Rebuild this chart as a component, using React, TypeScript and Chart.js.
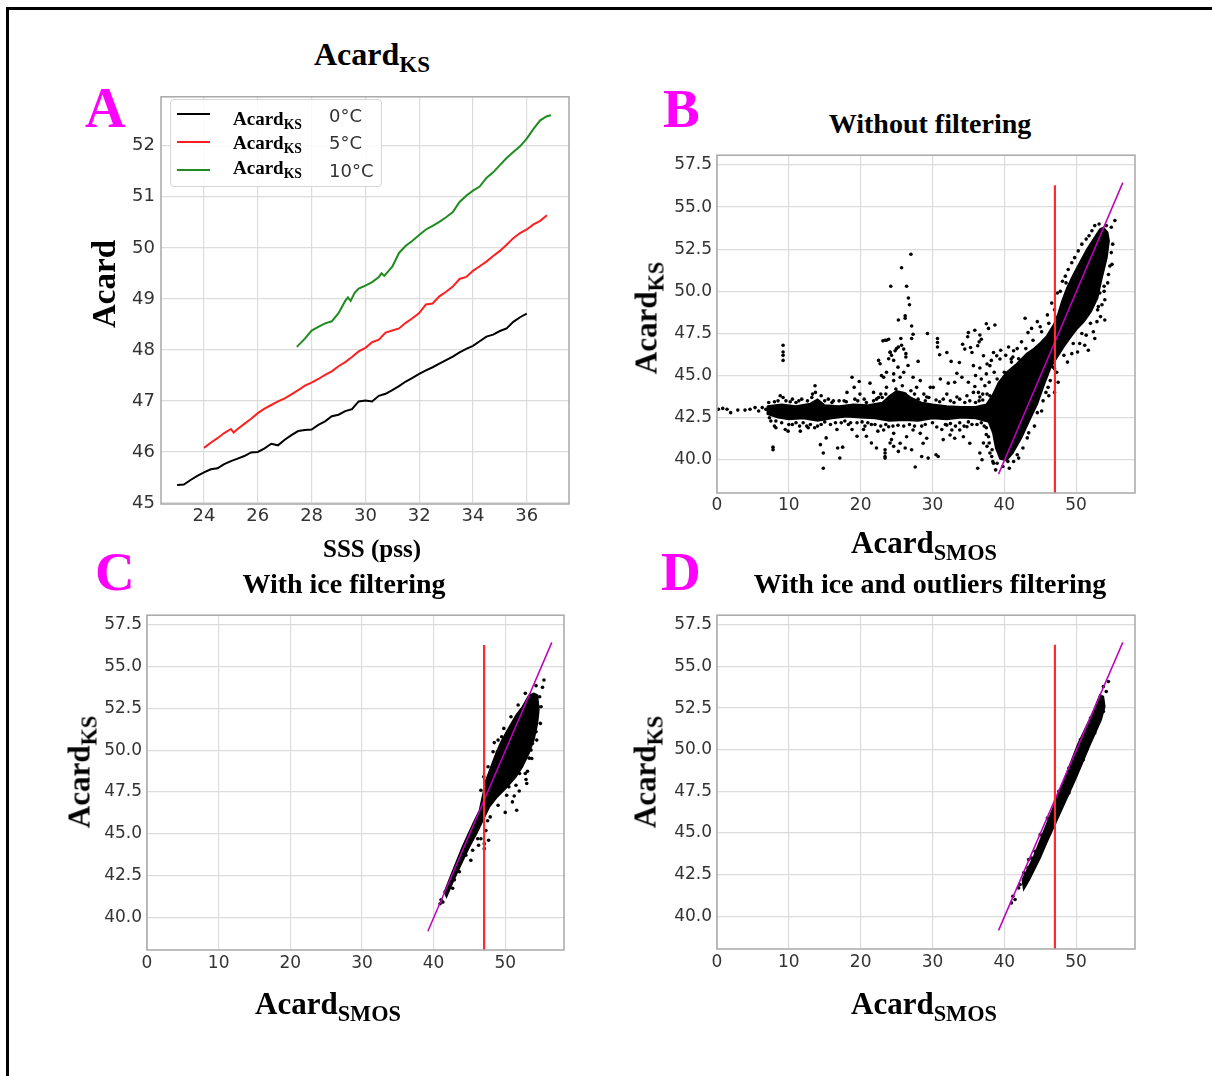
import React, { useEffect, useRef } from "react";
import { Chart, registerables } from "chart.js";

Chart.register(...registerables);

type Pt = [number, number];

// ---------------- Panel A data ----------------
const A_X_TICKS = [24, 26, 28, 30, 32, 34, 36];
const A_Y_TICKS = [45, 46, 47, 48, 49, 50, 51, 52];

const SSS_0C = [23.0, 23.25, 23.5, 23.75, 24.0, 24.25, 24.5, 24.75, 25.0, 25.25, 25.5, 25.75, 26.0, 26.25, 26.5, 26.75, 27.0, 27.25, 27.5, 27.75, 28.0, 28.25, 28.5, 28.75, 29.0, 29.25, 29.5, 29.75, 30.0, 30.25, 30.5, 30.75, 31.0, 31.25, 31.5, 31.75, 32.0, 32.25, 32.5, 32.75, 33.0, 33.25, 33.5, 33.75, 34.0, 34.25, 34.5, 34.75, 35.0, 35.25, 35.5, 35.75, 36.0];
const ACARD_0C = [45.35, 45.36, 45.45, 45.53, 45.6, 45.66, 45.68, 45.76, 45.82, 45.87, 45.92, 45.99, 46.0, 46.07, 46.16, 46.13, 46.24, 46.33, 46.41, 46.43, 46.44, 46.53, 46.6, 46.7, 46.73, 46.8, 46.84, 46.99, 47.01, 46.99, 47.1, 47.14, 47.21, 47.29, 47.38, 47.45, 47.53, 47.6, 47.66, 47.73, 47.8, 47.87, 47.95, 48.02, 48.08, 48.17, 48.26, 48.3, 48.37, 48.42, 48.55, 48.64, 48.71];

const SSS_5C = [24.0, 24.25, 24.5, 24.75, 25.0, 25.1, 25.25, 25.5, 25.75, 26.0, 26.25, 26.5, 26.75, 27.0, 27.25, 27.5, 27.75, 28.0, 28.25, 28.5, 28.75, 29.0, 29.25, 29.5, 29.75, 30.0, 30.25, 30.5, 30.75, 31.0, 31.25, 31.5, 31.75, 32.0, 32.25, 32.5, 32.75, 33.0, 33.25, 33.5, 33.75, 34.0, 34.25, 34.5, 34.75, 35.0, 35.25, 35.5, 35.75, 36.0, 36.25, 36.5, 36.75];
const ACARD_5C = [46.08, 46.18, 46.27, 46.37, 46.45, 46.38, 46.45, 46.55, 46.65, 46.76, 46.85, 46.92, 46.99, 47.05, 47.13, 47.21, 47.3, 47.36, 47.43, 47.51, 47.58, 47.68, 47.76, 47.86, 47.97, 48.04, 48.15, 48.2, 48.34, 48.38, 48.42, 48.53, 48.62, 48.72, 48.89, 48.91, 49.05, 49.14, 49.24, 49.39, 49.43, 49.55, 49.64, 49.73, 49.84, 49.94, 50.06, 50.19, 50.29, 50.36, 50.46, 50.53, 50.64];

const SSS_10C = [27.45, 27.75, 28.0, 28.25, 28.5, 28.75, 29.0, 29.25, 29.35, 29.45, 29.6, 29.75, 30.0, 30.25, 30.5, 30.6, 30.7, 31.0, 31.25, 31.5, 31.75, 32.0, 32.25, 32.5, 32.75, 33.0, 33.25, 33.5, 33.75, 34.0, 34.25, 34.5, 34.75, 35.0, 35.25, 35.5, 35.75, 36.0, 36.25, 36.5, 36.75, 36.9];
const ACARD_10C = [48.06, 48.22, 48.38, 48.45, 48.52, 48.56, 48.72, 48.96, 49.03, 48.96, 49.12, 49.2, 49.26, 49.33, 49.43, 49.5, 49.45, 49.63, 49.9, 50.04, 50.14, 50.25, 50.36, 50.43, 50.51, 50.6, 50.7, 50.9, 51.02, 51.12, 51.2, 51.37, 51.48, 51.62, 51.76, 51.88, 51.99, 52.14, 52.33, 52.5, 52.58, 52.6];

const LEGEND_TEMPS = ["0°C", "5°C", "10°C"];

// ---------------- Scatter panels data ----------------
const SCATTER_X_TICKS = [0, 10, 20, 30, 40, 50];
const SCATTER_Y_TICKS = [40, 42.5, 45, 47.5, 50, 52.5, 55, 57.5];

const FIT_LINE: Pt[] = [[39.2, 39.15], [56.5, 56.45]];
const ICE_LINE: Pt[] = [[47.05, 37.5], [47.05, 56.3]];

const B_CORE: Pt[] = [
  [7.0, 43.2], [9.0, 43.3], [11.0, 43.2], [13.0, 43.35], [14.0, 43.6], [15.0, 43.25], [17.0, 43.2], [19.0, 43.3], [21.0, 43.25], [23.0, 43.4], [24.0, 43.8], [25.0, 44.1], [26.0, 44.0], [27.0, 43.7], [28.5, 43.4], [30.0, 43.3], [32.0, 43.2], [34.0, 43.15], [36.0, 43.15], [37.5, 43.3], [38.3, 43.8], [39.2, 44.6], [40.3, 45.2], [41.7, 45.7], [43.1, 46.3], [44.1, 46.6], [45.0, 46.95], [45.9, 47.35], [46.9, 48.05], [47.5, 48.7], [48.0, 49.4], [48.7, 50.2], [49.6, 51.0], [50.6, 51.8], [51.5, 52.5], [52.4, 53.1], [53.3, 53.7], [53.8, 53.8], [54.4, 53.5], [54.6, 53.0], [54.3, 52.0], [53.5, 50.6], [53.0, 49.6], [52.1, 48.8], [51.1, 48.2], [50.2, 47.8], [49.3, 47.3], [48.3, 46.7], [47.4, 46.1], [46.5, 45.5], [45.6, 44.5], [44.6, 43.3], [43.7, 42.5], [42.4, 41.3], [41.2, 40.4], [40.3, 39.95], [39.4, 40.05], [38.8, 40.7], [38.4, 41.6], [37.8, 42.25], [36.0, 42.45], [34.0, 42.5], [32.0, 42.4], [30.0, 42.45], [28.0, 42.3], [26.0, 42.35], [24.0, 42.3], [22.0, 42.45], [20.0, 42.5], [18.0, 42.55], [16.0, 42.45], [14.0, 42.3], [12.0, 42.45], [10.0, 42.4], [8.5, 42.5], [7.0, 42.7], [7.0, 43.2],
];

const B_DOTS: Pt[] = [
  [0.2, 43.0], [0.8, 43.05], [1.4, 43.0], [1.9, 42.8], [2.9, 42.95], [3.9, 42.95], [4.6, 43.0], [5.3, 43.1], [5.8, 42.9], [6.3, 43.1], [6.8, 43.0],
  [7.8, 40.75], [7.8, 40.6], [8.8, 43.8], [9.2, 43.7], [8.2, 41.9], [9.9, 41.7], [9.5, 41.8], [9.2, 46.8], [9.2, 46.4], [9.2, 46.2], [9.2, 45.9], [8.0, 42.0], [10.5, 42.1],
  [11.4, 43.5], [11.6, 41.7], [12.7, 41.9], [13.6, 41.9], [13.65, 44.4], [13.3, 43.9], [13.7, 44.0], [14.4, 40.9], [14.8, 40.4], [14.8, 39.5], [15.2, 41.3], [16.8, 40.7], [17.1, 40.1], [17.5, 40.75], [18.1, 44.0], [18.8, 44.9], [19.1, 44.3], [19.8, 44.65], [19.9, 43.9], [16.7, 41.8], [17.7, 43.5], [18.3, 42.1], [18.8, 41.8], [19.5, 41.4], [12.0, 42.2], [15.8, 42.1], [11.0, 43.4], [16.2, 43.5], [14.0, 42.0],
  [20.4, 41.8], [20.8, 41.4], [20.6, 42.0], [21.3, 44.55], [21.8, 44.0], [21.5, 41.0], [22.2, 40.7], [22.4, 41.7], [22.5, 45.9], [22.7, 45.7], [23.1, 47.06], [23.6, 47.1], [23.4, 40.2], [23.4, 40.4], [22.9, 45.0], [23.6, 45.2],
  [24.1, 46.4], [24.3, 46.2], [24.6, 45.9], [25.0, 46.6], [24.6, 44.7], [24.3, 41.2], [24.2, 50.3], [25.7, 51.4], [26.4, 50.3], [26.65, 49.6], [26.8, 49.2], [27.0, 52.2], [25.25, 48.3], [26.2, 48.4], [26.2, 48.55], [27.1, 47.94], [27.3, 47.45], [27.1, 47.2], [29.3, 47.5], [23.4, 47.1], [23.9, 47.16], [25.6, 47.2], [25.7, 46.8], [25.25, 46.7], [26.0, 46.57], [26.3, 46.3], [26.3, 46.1], [24.8, 46.47], [24.1, 46.37], [23.9, 46.0], [28.0, 45.84], [23.4, 40.6], [23.4, 40.1], [24.1, 41.0], [24.6, 40.8], [25.25, 40.5], [26.2, 40.7], [27.6, 39.57], [27.1, 40.6], [28.5, 40.2], [29.4, 40.1], [29.7, 44.3], [29.2, 43.73], [30.1, 44.3], [28.3, 44.7], [27.3, 44.9], [25.5, 44.9], [24.6, 45.1], [23.2, 44.9], [27.3, 41.77], [28.3, 41.57], [26.4, 41.37], [25.5, 40.98], [24.6, 41.57], [28.7, 40.98], [29.2, 41.28], [23.9, 41.96], [23.2, 41.77], [25.2, 45.5], [26.0, 45.2], [26.6, 45.6], [25.8, 44.4], [24.9, 44.2], [27.0, 44.1], [26.2, 43.9], [25.5, 43.6], [27.8, 44.3], [28.8, 43.9], [22.8, 43.9], [23.6, 44.3],
  [30.7, 47.2], [30.7, 46.96], [30.7, 46.7], [31.0, 46.24], [32.0, 46.37], [32.6, 45.84], [33.75, 45.78], [33.4, 45.14], [34.2, 46.86], [34.9, 47.3], [35.0, 47.55], [34.5, 46.57], [35.3, 46.67], [35.5, 46.37], [35.9, 47.69], [36.6, 47.41], [36.8, 47.16], [36.5, 47.0], [36.3, 46.77], [37.5, 48.08], [37.8, 47.8], [38.7, 48.0], [37.1, 46.18], [35.7, 45.59], [36.6, 45.45], [37.6, 45.69], [38.0, 45.59], [38.95, 46.18], [39.4, 45.98], [38.5, 46.37], [41.3, 46.47], [42.9, 48.4], [43.3, 47.55],
  [30.5, 40.3], [30.8, 40.2], [31.5, 41.2], [32.45, 41.47], [33.1, 41.28], [33.8, 41.77], [34.8, 41.96], [34.3, 41.37], [35.2, 40.98], [36.3, 39.5], [36.6, 40.4], [36.9, 40.0], [37.6, 40.8], [37.1, 41.0], [37.8, 41.37], [38.25, 40.2], [38.5, 39.8],
  [31.1, 44.8], [32.2, 44.55], [33.1, 44.6], [34.1, 44.9], [35.0, 44.6], [35.9, 44.35], [32.0, 43.9], [33.4, 43.73], [34.8, 43.8], [35.7, 44.0], [36.6, 43.73], [31.3, 41.8], [32.0, 42.06], [32.7, 41.77],
  [55.4, 54.2], [54.9, 53.8], [54.2, 53.9], [48.6, 50.5], [50.2, 46.4], [51.7, 46.5], [52.9, 48.2], [53.1, 49.1], [53.3, 49.9], [46.8, 45.5], [47.3, 45.2], [47.5, 44.6], [47.0, 44.0], [45.4, 43.5], [46.1, 44.3], [46.4, 44.7], [41.2, 46.1], [40.96, 45.98], [54.7, 51.5], [53.9, 50.3], [53.6, 49.2],
  [7.5, 42.3], [8.5, 43.5], [10.5, 43.6], [12.5, 42.0], [13.2, 43.7], [15.5, 43.6], [17.3, 42.2], [19.2, 43.6], [20.5, 43.6], [21.5, 42.1], [22.5, 43.7], [28.5, 42.0], [29.5, 43.7], [31.5, 43.6], [33.2, 42.0], [35.5, 42.1], [36.5, 43.5], [37.2, 42.0], [38.2, 43.6], [39.0, 43.2],
  [7.2, 43.4], [8.0, 43.45], [9.6, 43.5], [10.2, 43.45], [11.8, 43.6], [12.6, 43.5], [14.5, 43.8], [15.0, 43.5], [16.0, 43.4], [17.0, 43.5], [18.0, 43.45], [19.6, 43.5], [20.8, 43.4], [21.8, 43.5], [22.2, 43.6], [23.0, 43.7], [23.5, 43.9], [27.5, 43.9], [28.0, 43.6], [29.0, 43.5], [30.5, 43.55], [31.0, 43.45], [32.5, 43.5], [33.0, 43.4], [33.8, 43.6], [34.5, 43.4], [35.2, 43.5], [36.0, 43.4], [37.0, 43.55], [37.6, 43.9],
  [7.3, 42.5], [8.2, 42.3], [9.0, 42.2], [10.0, 42.1], [11.0, 42.2], [11.5, 42.0], [13.0, 42.1], [14.5, 42.1], [15.0, 42.25], [16.5, 42.2], [17.8, 42.3], [18.6, 42.2], [19.5, 42.2], [20.2, 42.25], [21.0, 42.2], [22.0, 42.1], [22.8, 42.0], [23.5, 42.1], [24.5, 42.0], [25.2, 42.05], [26.0, 42.0], [26.8, 42.1], [27.5, 42.0], [29.0, 42.1], [30.0, 42.2], [30.6, 41.95], [31.8, 42.1], [32.5, 42.15], [33.8, 42.2], [34.4, 42.0], [35.0, 42.25], [36.2, 42.1], [36.8, 42.2], [37.5, 41.9],
  [37.0, 43.9], [37.3, 44.4], [36.8, 44.8], [37.9, 44.6], [37.5, 45.1], [38.2, 45.9], [39.5, 46.5], [40.2, 46.2], [40.6, 46.7], [41.8, 46.6], [42.4, 47.0], [43.8, 47.8], [44.6, 48.2], [37.5, 41.5], [37.9, 41.0], [38.0, 40.4], [38.4, 39.9], [38.8, 39.4], [39.8, 39.6], [40.7, 39.5], [41.3, 39.9], [42.0, 40.1], [42.6, 40.7], [43.2, 41.3], [36.9, 43.0], [37.2, 42.6], [36.4, 44.0], [36.0, 45.0],
  [44.0, 47.1], [45.2, 47.6], [46.2, 48.1], [47.0, 48.9], [47.8, 50.0], [48.5, 50.9], [49.4, 51.7], [50.3, 52.4], [51.4, 53.1], [52.2, 53.6], [44.6, 42.8], [45.8, 44.0], [47.0, 45.4], [48.3, 46.2], [49.6, 46.9], [50.8, 47.5], [52.0, 48.1], [53.0, 48.9], [53.9, 50.0], [54.5, 51.0], [54.9, 52.3], [38.0, 43.8], [37.8, 42.8], [38.3, 40.6], [39.0, 39.8], [40.5, 39.9], [41.8, 40.3], [40.0, 45.2], [41.0, 45.8], [42.0, 46.0], [43.0, 46.6], [39.0, 44.8], [38.6, 45.2],
  [45.0, 47.9], [46.0, 48.6], [46.6, 49.3], [47.4, 49.9], [48.1, 50.6], [48.9, 51.3], [49.8, 52.0], [50.8, 52.8], [51.8, 53.3], [52.6, 53.9], [53.2, 54.0],
  [48.8, 45.8], [49.4, 46.3], [50.5, 46.9], [51.4, 47.4], [52.4, 47.6], [53.4, 48.5], [54.0, 49.5], [54.4, 50.5], [55.0, 51.6], [55.1, 52.8], [54.0, 48.3], [52.6, 47.2], [51.2, 46.8], [46.2, 43.8], [45.2, 42.9], [44.2, 42.0], [43.4, 41.6],
];

const C_CORE: Pt[] = [
  [41.5, 41.5], [42.5, 42.6], [44.0, 44.2], [45.5, 45.6], [46.4, 46.4], [46.8, 47.2], [47.3, 48.2], [48.0, 49.0], [48.7, 49.8], [49.4, 50.5], [50.3, 51.2], [51.5, 52.1], [52.4, 52.6], [53.3, 53.3], [54.0, 53.4], [54.5, 53.3],
  [54.7, 52.4], [54.5, 51.6], [54.0, 50.6], [53.3, 49.8], [52.4, 49.0], [51.5, 48.4], [50.3, 47.8], [48.9, 47.2], [47.8, 46.6], [46.9, 45.8], [46.0, 45.0], [45.0, 44.2], [44.0, 43.3], [42.7, 42.1], [41.8, 41.2], [41.5, 41.5],
];

const C_DOTS: Pt[] = [
  [55.4, 54.2], [54.3, 53.86], [55.2, 53.76], [48.47, 50.45], [50.0, 46.27], [51.6, 46.4], [52.9, 48.24], [53.1, 48.73], [53.34, 49.52], [53.8, 50.4], [54.3, 51.1], [51.25, 47.25], [51.95, 47.55],
  [47.54, 45.77], [47.3, 45.18], [47.68, 44.6], [47.07, 44.4], [46.6, 44.69], [47.07, 44.1], [46.15, 44.69], [46.28, 44.3], [45.45, 44.0], [45.2, 43.4], [44.5, 43.7], [43.6, 42.72], [42.9, 42.23], [42.66, 41.73],
  [41.04, 41.04], [41.3, 40.9], [40.9, 40.8], [41.6, 41.5], [42.3, 42.0], [43.0, 42.8], [43.5, 43.3], [44.0, 43.7], [44.6, 44.3], [45.0, 44.6], [45.6, 45.2], [46.0, 45.4], [48.0, 47.2], [49.0, 47.6], [50.5, 47.8], [52.0, 48.6], [53.6, 50.0], [54.6, 52.6], [54.8, 53.2], [49.5, 50.8], [48.9, 49.9],
  [47.6, 49.0], [48.3, 49.9], [49.0, 50.6], [49.8, 51.3], [50.8, 52.0], [51.8, 52.7], [52.8, 53.4], [46.6, 47.6], [47.0, 48.4],
  [47.9, 46.0], [49.0, 46.7], [50.2, 47.3], [51.5, 47.9], [52.8, 48.6], [53.7, 49.5], [54.4, 50.6], [54.9, 51.6], [55.0, 52.6], [53.0, 48.0], [51.0, 46.9],
];

const D_CORE: Pt[] = [
  [42.5, 42.2], [44.0, 43.5], [46.6, 46.3], [48.5, 48.4], [50.2, 50.3], [52.4, 52.3], [53.3, 53.3], [53.8, 53.2],
  [54.0, 52.6], [53.5, 51.8], [51.95, 50.3], [50.0, 48.3], [48.0, 46.4], [46.0, 44.5], [45.0, 43.5], [43.5, 42.2], [42.7, 41.6], [42.5, 42.2],
];

const D_DOTS: Pt[] = [
  [54.5, 54.1], [53.8, 53.8], [54.2, 53.5], [41.2, 41.2], [41.5, 41.0], [42.2, 41.9], [42.7, 42.6], [43.3, 42.9], [43.8, 43.5], [44.3, 43.9], [41.0, 40.8], [42.0, 41.7],
  [43.4, 43.4], [45.0, 44.9], [46.0, 45.9], [47.6, 47.5], [49.0, 48.9], [50.6, 50.6], [52.0, 51.9], [47.0, 45.6], [49.0, 47.4], [51.0, 49.4], [52.6, 51.0], [53.8, 52.3],
];

// ---------------- helpers ----------------
const SERIF = '"Liberation Serif", "Times New Roman", serif';
const SANS = '"DejaVu Sans", sans-serif';

const zip = (xs: number[], ys: number[]) => xs.map((x, i) => ({ x, y: ys[i] }));
const toXY = (pts: Pt[]) => pts.map(([x, y]) => ({ x, y }));

const frameBox = {
  id: "frameBox",
  afterDatasetsDraw(chart: any) {
    const { ctx, chartArea } = chart;
    const { left, top, right, bottom } = chartArea;
    ctx.save();
    ctx.strokeStyle = "#a8a8a8";
    ctx.lineWidth = 1.5;
    ctx.strokeRect(left, top, right - left, bottom - top);
    ctx.restore();
  },
};

function axis(opts: {
  min: number; max: number; ticks: number[]; size: number; pad: number;
  fit: "width" | "height"; fitVal: number; fmt?: (v: number) => string;
}) {
  return {
    type: "linear",
    min: opts.min,
    max: opts.max,
    afterBuildTicks: (s: any) => { s.ticks = opts.ticks.map((v) => ({ value: v })); },
    afterFit: (s: any) => { s[opts.fit] = opts.fitVal; },
    grid: { color: "#dcdcdc", lineWidth: 1.2, drawTicks: false },
    border: { display: false },
    ticks: {
      autoSkip: false,
      maxRotation: 0,
      padding: opts.pad,
      color: "#333333",
      font: { family: SANS, size: opts.size },
      callback: (v: any) => (opts.fmt ? opts.fmt(Number(v)) : String(v)),
    },
  };
}

function aConfig() {
  const line = (data: any, color: string) => ({
    data, borderColor: color, backgroundColor: color, borderWidth: 2, pointRadius: 0, tension: 0, fill: false,
  });
  return {
    type: "line",
    data: {
      datasets: [
        line(zip(SSS_0C, ACARD_0C), "#000000"),
        line(zip(SSS_5C, ACARD_5C), "#ff1f1f"),
        line(zip(SSS_10C, ACARD_10C), "#1e8c1e"),
      ],
    },
    options: {
      animation: false,
      responsive: false,
      devicePixelRatio: 1,
      layout: { padding: { top: 9, right: 11, left: 0, bottom: 0 } },
      plugins: { legend: { display: false }, tooltip: { enabled: false } },
      scales: {
        x: axis({ min: 22.4, max: 37.57, ticks: A_X_TICKS, size: 18, pad: 2, fit: "height", fitVal: 36 }),
        y: axis({ min: 44.98, max: 52.96, ticks: A_Y_TICKS, size: 18, pad: 6, fit: "width", fitVal: 61 }),
      },
    },
    plugins: [frameBox],
  };
}

function scatterConfig(core: Pt[], dots: Pt[], box: { padTop: number; padRight: number; xH: number; xPad: number }) {
  return {
    type: "line",
    data: {
      datasets: [
        { data: toXY(ICE_LINE), borderColor: "#ff2a2a", borderWidth: 2.2, pointRadius: 0, fill: false, order: 0 },
        { data: toXY(FIT_LINE), borderColor: "#bf00bf", borderWidth: 1.5, pointRadius: 0, fill: false, order: 1 },
        { data: toXY(dots), showLine: false, pointRadius: 1.8, pointBackgroundColor: "#000", pointBorderWidth: 0, order: 2 },
        { data: toXY(core), borderColor: "#000", backgroundColor: "#000", borderWidth: 1.5, pointRadius: 0, tension: 0, fill: "shape", order: 3 },
      ],
    },
    options: {
      animation: false,
      responsive: false,
      devicePixelRatio: 1,
      layout: { padding: { top: box.padTop, right: box.padRight, left: 0, bottom: 0 } },
      plugins: { legend: { display: false }, tooltip: { enabled: false } },
      scales: {
        x: axis({ min: 0, max: 58.2, ticks: SCATTER_X_TICKS, size: 17, pad: box.xPad, fit: "height", fitVal: box.xH }),
        y: axis({ min: 38.03, max: 58.08, ticks: SCATTER_Y_TICKS, size: 17, pad: 5, fit: "width", fitVal: 57, fmt: (v) => v.toFixed(1) }),
      },
    },
    plugins: [frameBox],
  };
}

function ChartBox({ left, top, width, height, make }: any) {
  const ref = useRef<HTMLCanvasElement>(null);
  useEffect(() => {
    const chart = new Chart(ref.current as HTMLCanvasElement, make());
    return () => chart.destroy();
  }, []);
  return (
    <canvas ref={ref} width={width} height={height}
      style={{ position: "absolute", left, top, width, height, display: "block" }} />
  );
}

function Sub({ children }: any) {
  return <span style={{ fontSize: "0.72em", position: "relative", top: "0.3em" }}>{children}</span>;
}

function Text({ cx, left, baseline, size, color = "#000", family = SERIF, weight = "bold", children }: any) {
  const ratio = family === SANS ? 0.846 : 0.8375;
  const top = baseline - ratio * size;
  const style: any = {
    position: "absolute", top, fontFamily: family, fontWeight: weight, fontSize: size,
    lineHeight: 1, color, whiteSpace: "nowrap",
  };
  if (cx !== undefined) { style.left = cx; style.transform = "translateX(-50%)"; }
  else style.left = left;
  return <div style={style}>{children}</div>;
}

function RotText({ cx, cy, size, children }: any) {
  return (
    <div style={{
      position: "absolute", left: cx, top: cy, transform: "translate(-50%,-50%) rotate(-90deg)",
      fontFamily: SERIF, fontWeight: "bold", fontSize: size, lineHeight: 1, whiteSpace: "nowrap", color: "#000",
    }}>{children}</div>
  );
}

const LEGEND_COLORS = ["#000000", "#ff1f1f", "#1e8c1e"];
const LEGEND_LINE_Y = [114, 142, 170];
const LEGEND_TEXT_BASE = [125, 149, 173.5];
const LEGEND_TEMP_BASE = [122, 149.5, 177];

export default function App() {
  return (
    <div style={{ position: "absolute", left: 0, top: 0, width: 1212, height: 1076, background: "#fff", overflow: "hidden" }}>
      {/* frame */}
      <div style={{ position: "absolute", left: 6, top: 7, width: 1206, height: 3, background: "#000" }} />
      <div style={{ position: "absolute", left: 6, top: 7, width: 3, height: 1069, background: "#000" }} />

      {/* Panel A */}
      <ChartBox left={100} top={80} width={480} height={460} make={aConfig} />
      <Text cx={372} baseline={65} size={32}>Acard<Sub>KS</Sub></Text>
      <Text left={85} baseline={127} size={56} color="#ff00ff">A</Text>
      <Text cx={372} baseline={557} size={25}>SSS (pss)</Text>
      <RotText cx={104} cy={284} size={33}>Acard</RotText>
      <div style={{ position: "absolute", left: 170, top: 99, width: 212, height: 88, border: "1px solid #d6d6d6", borderRadius: 4, background: "rgba(255,255,255,0.85)", boxSizing: "border-box" }} />
      {LEGEND_TEMPS.map((t, i) => (
        <React.Fragment key={t}>
          <div style={{ position: "absolute", left: 177, top: LEGEND_LINE_Y[i] - 1, width: 33, height: 2, background: LEGEND_COLORS[i] }} />
          <Text left={233} baseline={LEGEND_TEXT_BASE[i]} size={19}>Acard<Sub>KS</Sub></Text>
          <Text left={329} baseline={LEGEND_TEMP_BASE[i]} size={18} family={SANS} weight="normal" color="#333">{t}</Text>
        </React.Fragment>
      ))}

      {/* Panel B */}
      <ChartBox left={660} top={140} width={490} height={400}
        make={() => scatterConfig(B_CORE, B_DOTS, { padTop: 13, padRight: 15, xH: 47, xPad: 2 })} />
      <Text left={663} baseline={127} size={55} color="#ff00ff">B</Text>
      <Text cx={930} baseline={133} size={28}>Without filtering</Text>
      <Text cx={924} baseline={553} size={31}>Acard<Sub>SMOS</Sub></Text>
      <RotText cx={646} cy={318} size={31}>Acard<Sub>KS</Sub></RotText>

      {/* Panel C */}
      <ChartBox left={90} top={600} width={490} height={400}
        make={() => scatterConfig(C_CORE, C_DOTS, { padTop: 12, padRight: 16, xH: 50, xPad: 3 })} />
      <Text left={95} baseline={590} size={55} color="#ff00ff">C</Text>
      <Text cx={344} baseline={593} size={28}>With ice filtering</Text>
      <Text cx={328} baseline={1014} size={31}>Acard<Sub>SMOS</Sub></Text>
      <RotText cx={79} cy={772} size={31}>Acard<Sub>KS</Sub></RotText>

      {/* Panel D */}
      <ChartBox left={660} top={600} width={490} height={400}
        make={() => scatterConfig(D_CORE, D_DOTS, { padTop: 11, padRight: 15, xH: 51, xPad: 3 })} />
      <Text left={661} baseline={590} size={55} color="#ff00ff">D</Text>
      <Text cx={930} baseline={593} size={28}>With ice and outliers filtering</Text>
      <Text cx={924} baseline={1014} size={31}>Acard<Sub>SMOS</Sub></Text>
      <RotText cx={645} cy={772} size={31}>Acard<Sub>KS</Sub></RotText>
    </div>
  );
}
